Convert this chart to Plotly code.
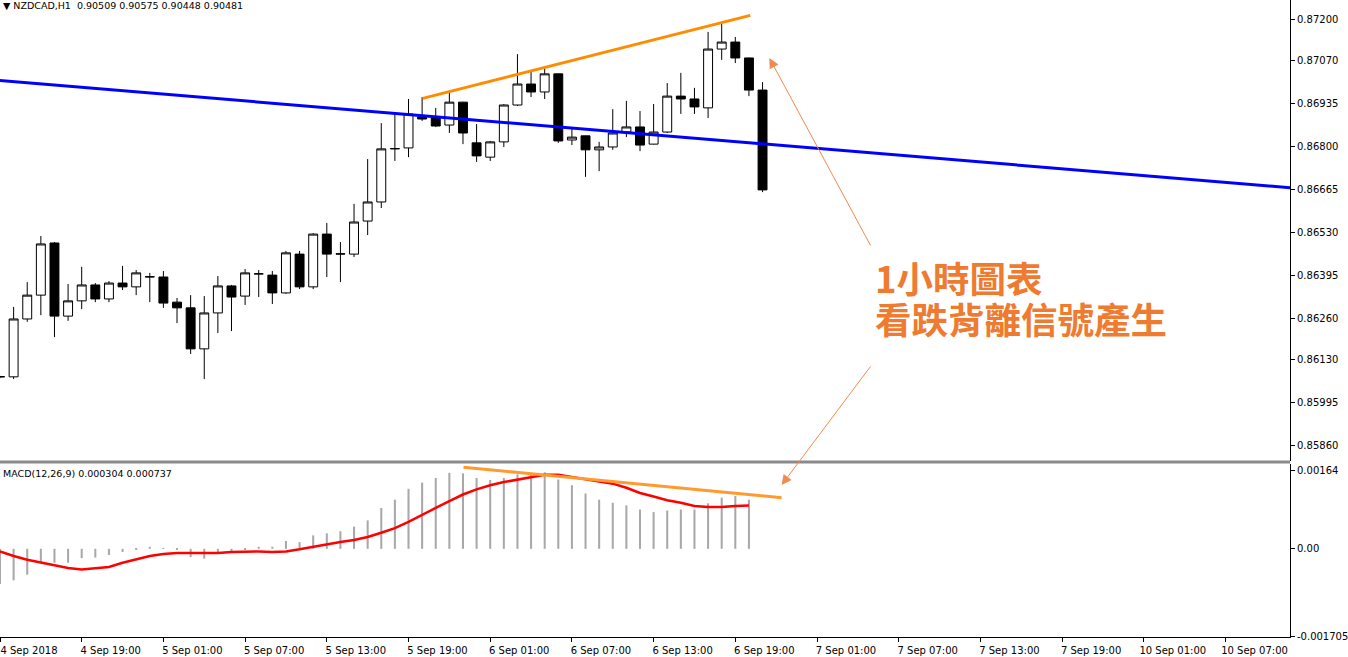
import plotly.graph_objects as go

# bar index = hours since 4 Sep 13:00 (H1 bars, NZDCAD)
bar_idx = list(range(57))

opens = [0.86077, 0.86076, 0.86258, 0.86333, 0.86497, 0.86267, 0.86315, 0.86365, 0.86321, 0.86371,
         0.86359, 0.86390, 0.86390, 0.86311, 0.86293, 0.86164, 0.86277, 0.86362, 0.86330, 0.86400,
         0.86396, 0.86340, 0.86462, 0.86359, 0.86525, 0.86462, 0.86462, 0.86566, 0.86626, 0.86793,
         0.86796, 0.86893, 0.86890, 0.86868, 0.86940, 0.86812, 0.86767, 0.86815, 0.86931, 0.86997,
         0.86972, 0.87029, 0.86821, 0.86834, 0.86790, 0.86799, 0.86846, 0.86862, 0.86808, 0.86846,
         0.86959, 0.86950, 0.86922, 0.87107, 0.87129, 0.87079, 0.86978]
highs = [0.86079, 0.86296, 0.86374, 0.86519, 0.86500, 0.86368, 0.86422, 0.86371, 0.86377, 0.86425,
         0.86412, 0.86403, 0.86409, 0.86324, 0.86333, 0.86330, 0.86393, 0.86365, 0.86415, 0.86412,
         0.86409, 0.86472, 0.86472, 0.86528, 0.86560, 0.86500, 0.86620, 0.86761, 0.86874, 0.86903,
         0.86950, 0.86956, 0.86922, 0.86975, 0.86941, 0.86871, 0.86818, 0.86934, 0.87091, 0.87038,
         0.87047, 0.87030, 0.86856, 0.86835, 0.86815, 0.86918, 0.86944, 0.86912, 0.86934, 0.87000,
         0.87032, 0.86985, 0.87161, 0.87192, 0.87145, 0.87080, 0.87003]
lows = [0.86072, 0.86069, 0.86249, 0.86270, 0.86201, 0.86252, 0.86289, 0.86311, 0.86311, 0.86349,
        0.86333, 0.86311, 0.86293, 0.86245, 0.86148, 0.86069, 0.86214, 0.86220, 0.86302, 0.86327,
        0.86305, 0.86337, 0.86352, 0.86352, 0.86390, 0.86374, 0.86453, 0.86522, 0.86607, 0.86755,
        0.86767, 0.86881, 0.86862, 0.86843, 0.86808, 0.86752, 0.86755, 0.86799, 0.86928, 0.86956,
        0.86950, 0.86812, 0.86805, 0.86705, 0.86723, 0.86790, 0.86830, 0.86786, 0.86807, 0.86843,
        0.86903, 0.86903, 0.86890, 0.87073, 0.87063, 0.86959, 0.86657]
closes = [0.86076, 0.86258, 0.86333, 0.86494, 0.86267, 0.86315, 0.86365, 0.86321, 0.86371, 0.86359,
          0.86403, 0.86391, 0.86308, 0.86293, 0.86164, 0.86277, 0.86362, 0.86327, 0.86403, 0.86400,
          0.86340, 0.86466, 0.86359, 0.86525, 0.86462, 0.86463, 0.86563, 0.86626, 0.86793, 0.86794,
          0.86903, 0.86887, 0.86865, 0.86940, 0.86843, 0.86771, 0.86815, 0.86931, 0.86997, 0.86972,
          0.87029, 0.86818, 0.86830, 0.86790, 0.86799, 0.86843, 0.86862, 0.86805, 0.86846, 0.86959,
          0.86950, 0.86925, 0.87107, 0.87129, 0.87079, 0.86978, 0.86664]

# MACD(12,26,9): main as histogram, signal as line (last bar not drawn)
macd_main = [-0.00068, -0.00061, -0.00050, -0.00027, -0.00027, -0.00027, -0.00018, -0.00017, -0.00012, -0.00006,
             -0.00001, 0.00004, 0.00001, -0.00001, -0.00016, -0.00019, -0.00010, -0.00008, -0.00002, 0.00004,
             0.00004, 0.00015, 0.00013, 0.00026, 0.00030, 0.00034, 0.00043, 0.00055, 0.00079, 0.00095,
             0.00116, 0.00128, 0.00137, 0.00147, 0.00146, 0.00137, 0.00133, 0.00137, 0.00144, 0.00147,
             0.00148, 0.00134, 0.00123, 0.00107, 0.00095, 0.00089, 0.00084, 0.00076, 0.00071, 0.00074,
             0.00076, 0.00076, 0.00088, 0.00099, 0.00102, 0.00095, None]
macd_signal = [-0.00005, -0.00014, -0.00021, -0.00026, -0.00031, -0.00037, -0.00040, -0.00038, -0.00035, -0.00027,
               -0.00021, -0.00014, -0.00010, -0.00008, -0.00008, -0.00008, -0.00008, -0.00006, -0.00005, -0.00005,
               -0.00006, -0.00005, -0.00001, 0.00004, 0.00008, 0.00013, 0.00017, 0.00023, 0.00031, 0.00040,
               0.00052, 0.00066, 0.00079, 0.00092, 0.00105, 0.00115, 0.00123, 0.00129, 0.00134, 0.00138,
               0.00143, 0.00143, 0.00139, 0.00134, 0.00130, 0.00126, 0.00118, 0.00108, 0.00101, 0.00094,
               0.00089, 0.00083, 0.00081, 0.00081, 0.00083, 0.00084, None]

# trend lines (bar index, value)
blue_x = [-2.0, 97.0]
blue_y = [0.87015, 0.86663]
top_x = [31.04, 55.1]
top_y = [0.86952, 0.87213]
macd_line_x = [34.04, 57.4]
macd_line_y = [0.001576, 0.000988]

price_ticks = [0.87200, 0.87070, 0.86935, 0.86800, 0.86665, 0.86530, 0.86395, 0.86260, 0.86130, 0.85995, 0.85860]
time_tickvals = [0, 6, 12, 18, 24, 30, 36, 42, 48, 54, 60, 66, 72, 78, 84, 90]
time_ticktext = ['4 Sep 2018', '4 Sep 19:00', '5 Sep 01:00', '5 Sep 07:00', '5 Sep 13:00', '5 Sep 19:00',
                 '6 Sep 01:00', '6 Sep 07:00', '6 Sep 13:00', '6 Sep 19:00', '7 Sep 01:00', '7 Sep 07:00',
                 '7 Sep 13:00', '7 Sep 19:00', '10 Sep 01:00', '10 Sep 07:00']

ORANGE_TXT = '#EE7B30'
small_font = dict(family='DejaVu Sans', size=10, color='black')
cjk_font = dict(family='Noto Sans CJK TC', size=36.5, color=ORANGE_TXT, weight='bold')

fig = go.Figure()

fig.add_trace(go.Candlestick(
    x=bar_idx, open=opens, high=highs, low=lows, close=closes,
    increasing=dict(line=dict(color='black', width=1), fillcolor='white'),
    decreasing=dict(line=dict(color='black', width=1), fillcolor='black'),
    whiskerwidth=0, xaxis='x', yaxis='y', hoverinfo='skip'
))
fig.add_trace(go.Scatter(x=blue_x, y=blue_y, mode='lines', line=dict(color='#0000FF', width=3),
                         xaxis='x', yaxis='y'))
fig.add_trace(go.Scatter(x=top_x, y=top_y, mode='lines', line=dict(color='#FF8C00', width=3),
                         xaxis='x', yaxis='y'))

fig.add_trace(go.Bar(x=bar_idx, y=macd_main, width=0.15, marker=dict(color='#A8A8A8', line=dict(width=0)),
                     xaxis='x', yaxis='y2'))
fig.add_trace(go.Scatter(x=bar_idx, y=macd_signal, mode='lines', line=dict(color='#FF0000', width=2.5),
                         xaxis='x', yaxis='y2'))
fig.add_trace(go.Scatter(x=macd_line_x, y=macd_line_y, mode='lines', line=dict(color='#FF9A2E', width=3),
                         xaxis='x', yaxis='y2'))

fig.update_layout(
    width=1348, height=657,
    margin=dict(l=0, r=53, t=0, b=20),
    paper_bgcolor='white', plot_bgcolor='white',
    showlegend=False,
    boxgap=0.2, boxgroupgap=0.18,
    xaxis=dict(range=[0, 94.735], anchor='y2', domain=[0, 1],
               tickvals=time_tickvals, ticktext=time_ticktext, ticklabelshift=29,
               ticks='outside', ticklen=4, tickcolor='black', tickfont=small_font,
               showline=True, linecolor='black', linewidth=1,
               showgrid=False, zeroline=False, rangeslider=dict(visible=False)),
    yaxis=dict(domain=[0.2763, 1], range=[0.858113, 0.872613], side='right', anchor='x',
               tickvals=price_ticks, ticktext=['%.5f' % v for v in price_ticks],
               ticks='outside', ticklen=4, tickcolor='black', tickfont=small_font,
               showline=True, linecolor='black', linewidth=1, showgrid=False, zeroline=False),
    yaxis2=dict(domain=[0, 0.27159], range=[-0.001705, 0.00164], side='right', anchor='x',
                tickvals=[0.001505, 0.0, -0.00169], ticktext=['0.00164', '0.00', '-0.001705'],
                ticks='outside', ticklen=4, tickcolor='black', tickfont=small_font,
                showline=True, linecolor='black', linewidth=1, showgrid=False, zeroline=False),
    shapes=[
        dict(type='line', xref='paper', yref='paper', x0=0, x1=1, y0=0.2747, y1=0.2747,
             line=dict(color='#8A8A8A', width=3)),
    ],
    annotations=[
        dict(xref='paper', yref='paper', x=0.001, y=0.9914, xanchor='left', yanchor='middle',
             text='▼ NZDCAD,H1  0.90509 0.90575 0.90448 0.90481', showarrow=False,
             font=dict(family='DejaVu Sans', size=9.5, color='black')),
        dict(xref='paper', yref='paper', x=0.001, y=1 - 473 / 637, xanchor='left', yanchor='middle',
             text='MACD(12,26,9) 0.000304 0.000737', showarrow=False,
             font=dict(family='DejaVu Sans', size=9.5, color='black')),
        dict(xref='paper', yref='paper', x=0.677, y=1 - 277 / 637, xanchor='left', yanchor='middle',
             text='1小時圖表', showarrow=False, font=cjk_font),
        dict(xref='paper', yref='paper', x=0.677, y=1 - 319 / 637, xanchor='left', yanchor='middle',
             text='看跌背離信號產生', showarrow=False, font=cjk_font),
        dict(xref='x', yref='y', x=56.5, y=0.87079, ax=102, ay=189, text='', showarrow=True,
             arrowhead=2, arrowsize=2, arrowwidth=1, arrowcolor='#F08A50'),
        dict(xref='x', yref='y2', x=57.4, y=0.001234, ax=90, ay=-120, text='', showarrow=True,
             arrowhead=2, arrowsize=2, arrowwidth=1, arrowcolor='#F08A50'),
    ],
)

fig.write_html('out.html', config={'displayModeBar': False},
               post_script="document.body.style.margin='0';")
